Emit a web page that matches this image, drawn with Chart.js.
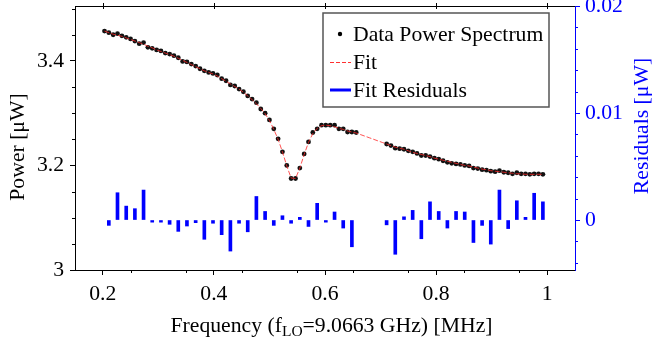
<!DOCTYPE html>
<html>
<head>
<meta charset="utf-8">
<script src="https://cdn.jsdelivr.net/npm/chart.js@4.4.0/dist/chart.umd.min.js"></script>
<style>
html, body { margin: 0; padding: 0; background: #fff; }
#wrap { width: 652px; height: 347px; }
</style>
</head>
<body>
<div id="wrap"><canvas id="spectrum" width="652" height="347"></canvas></div>
<script>
// Frequency offsets from the LO [MHz]
const freq = [
  0.2031, 0.2109, 0.2187, 0.2265, 0.2344, 0.2422, 0.2500, 0.2578, 0.2656, 0.2734,
  0.2812, 0.2890, 0.2969, 0.3047, 0.3125, 0.3203, 0.3281, 0.3359, 0.3437, 0.3515,
  0.3594, 0.3672, 0.3750, 0.3828, 0.3906, 0.3984, 0.4062, 0.4140, 0.4219, 0.4297,
  0.4375, 0.4453, 0.4531, 0.4609, 0.4687, 0.4765, 0.4844, 0.4922, 0.5000, 0.5078,
  0.5156, 0.5234, 0.5312, 0.5390, 0.5469, 0.5547, 0.5625, 0.5703, 0.5781, 0.5859,
  0.5937, 0.6015, 0.6094, 0.6172, 0.6250, 0.6328, 0.6406, 0.6484, 0.6562, 0.6640,
  0.6719, 0.6797, 0.6875, 0.6953, 0.7031, 0.7109, 0.7187, 0.7265, 0.7344, 0.7422,
  0.7500, 0.7578, 0.7656, 0.7734, 0.7812, 0.7890, 0.7969, 0.8047, 0.8125, 0.8203,
  0.8281, 0.8359, 0.8437, 0.8515, 0.8594, 0.8672, 0.8750, 0.8828, 0.8906, 0.8984,
  0.9062, 0.9140, 0.9219, 0.9297, 0.9375, 0.9453, 0.9531, 0.9609, 0.9687, 0.9765,
  0.9844, 0.9922
];

// Measured power [uW] (null = no data point)
const power = [
  3.457, 3.454, 3.450, 3.452, 3.448, 3.445, 3.442, 3.438, 3.433, 3.435,
  3.426, 3.424, 3.421, 3.419, 3.415, 3.413, 3.410, 3.406, 3.399, 3.398,
  3.394, 3.390, 3.385, 3.381, 3.378, 3.376, 3.373, 3.366, 3.362, 3.354,
  3.352, 3.346, 3.341, 3.333, 3.327, 3.320, 3.308, 3.300, 3.287, 3.270,
  3.251, 3.226, 3.200, 3.175, 3.175, 3.195, 3.222, 3.245, 3.263, 3.270,
  3.277, 3.277, 3.277, 3.277, 3.270, 3.270, 3.264, 3.264, 3.263, null,
  null, null, null, null, null, 3.241, 3.238, 3.233, 3.232, 3.231,
  3.228, 3.226, 3.223, 3.219, 3.219, 3.217, 3.214, 3.212, 3.209, 3.206,
  3.204, 3.203, 3.202, 3.200, 3.199, 3.195, 3.194, 3.192, 3.191, 3.189,
  3.188, 3.190, 3.187, 3.186, 3.184, 3.186, 3.184, 3.184, 3.183, 3.184,
  3.184, 3.183
];

// Fitted power [uW]
const fitPower = [
  3.457, 3.454, 3.451, 3.449, 3.447, 3.444, 3.441, 3.438, 3.435, 3.432,
  3.428, 3.425, 3.421, 3.418, 3.415, 3.412, 3.409, 3.405, 3.401, 3.397,
  3.393, 3.389, 3.385, 3.381, 3.378, 3.375, 3.371, 3.366, 3.361, 3.356,
  3.351, 3.346, 3.340, 3.333, 3.326, 3.318, 3.309, 3.299, 3.286, 3.269,
  3.250, 3.226, 3.199, 3.176, 3.175, 3.195, 3.221, 3.244, 3.261, 3.271,
  3.276, 3.277, 3.276, 3.274, 3.271, 3.269, 3.266, 3.264, 3.262, 3.259,
  3.256, 3.253, 3.250, 3.247, 3.244, 3.241, 3.238, 3.235, 3.233, 3.231,
  3.228, 3.225, 3.223, 3.221, 3.219, 3.217, 3.214, 3.212, 3.210, 3.208,
  3.206, 3.204, 3.202, 3.200, 3.199, 3.197, 3.195, 3.193, 3.192, 3.190,
  3.189, 3.188, 3.187, 3.186, 3.185, 3.184, 3.184, 3.183, 3.183, 3.183,
  3.183, 3.183
];

// Fit residuals [uW]
const residualFreq = [
  0.2109, 0.2265, 0.2422, 0.2578, 0.2734, 0.2890, 0.3047, 0.3203, 0.3359, 0.3515,
  0.3672, 0.3828, 0.3984, 0.4140, 0.4297, 0.4453, 0.4609, 0.4765, 0.4922, 0.5078,
  0.5234, 0.5390, 0.5547, 0.5703, 0.5859, 0.6015, 0.6172, 0.6328, 0.6484,
  0.7109, 0.7265, 0.7422, 0.7578, 0.7734, 0.7890, 0.8047, 0.8203, 0.8359, 0.8515,
  0.8672, 0.8828, 0.8984, 0.9140, 0.9297, 0.9453, 0.9609, 0.9765, 0.9922
];
const residuals = [
  -0.0005, 0.00255, 0.0013, 0.00106, 0.0028, -0.0002, -0.0002, -0.0004, -0.00106, -0.00056,
  -0.00025, -0.0018, -0.0003, -0.00137, -0.0029, -0.0003, -0.0011, 0.0022, 0.0008, -0.0005,
  0.0004, -0.0003, 0.00025, -0.0006, 0.00156, -0.0002, 0.00075, -0.00075, -0.0025,
  -0.00045, -0.0032, 0.0003, 0.0009, -0.00175, 0.0017, 0.0008, -0.00075, 0.0008, 0.00075,
  -0.0021, -0.0005, -0.00225, 0.0028, -0.0008, 0.0018, 0.00025, 0.0025, 0.0017
];

// Axis ticks
const freqTicks = [0.2, 0.4, 0.6, 0.8, 1];
const freqTickLabels = ['0.2', '0.4', '0.6', '0.8', '1'];
const freqMinor = [0.25, 0.35, 0.45, 0.55, 0.65, 0.75, 0.85, 0.95];
const powerTicks = [3, 3.2, 3.4];
const powerTickLabels = ['3', '3.2', '3.4'];
const powerMinor = [3.05, 3.1, 3.15, 3.25, 3.3, 3.35, 3.45, 3.5];
const residualTicks = [0, 0.01, 0.02];
const residualTickLabels = ['0', '0.01', '0.02'];
const residualMinor = [-0.004, -0.002, 0.002, 0.004, 0.006, 0.008, 0.012, 0.014, 0.016, 0.018];

const FONT = 'Liberation Serif';
const SIZE = 21.7;
const BLUE = '#0000ff';

const dataPoints = freq.map((f, i) => ({ x: f, y: power[i] })).filter(d => d.y !== null);
const fitPoints = freq.map((f, i) => ({ x: f, y: fitPower[i] }));
const residualPoints = residualFreq.map((f, i) => ({ x: f, y: residuals[i] }));

function fixTicks(values) {
    return scale => { scale.ticks = values.map(v => ({ value: v })); };
}

// keep the plot area fixed: no extra room for overhanging tick labels
function fixSize(w, h) {
    return s => {
        if (w) s.width = w;
        if (h) s.height = h;
        s.paddingTop = 0;
        s.paddingBottom = 0;
        s.paddingLeft = 0;
        s.paddingRight = 0;
    };
}

function font(size) {
    return size + 'px "' + FONT + '"';
}

function rotatedText(ctx, text, x, y, color) {
    ctx.save();
    ctx.translate(x, y);
    ctx.rotate(-Math.PI / 2);
    ctx.font = font(SIZE);
    ctx.fillStyle = color;
    ctx.textAlign = 'center';
    ctx.textBaseline = 'middle';
    ctx.fillText(text, 0, 0);
    ctx.restore();
}

// Minor ticks, top frame, axis titles and the boxed legend
const extras = {
    id: 'extras',
    afterDraw(chart) {
        const { ctx, chartArea: a, scales } = chart;
        ctx.save();
        ctx.lineWidth = 1;

        ctx.strokeStyle = '#000';
        ctx.beginPath();
        ctx.moveTo(a.left, Math.round(a.top) + 0.5);
        ctx.lineTo(a.right, Math.round(a.top) + 0.5);
        freqTicks.forEach(v => {
            const x = Math.round(scales.x.getPixelForValue(v)) + 0.5;
            ctx.moveTo(x, a.top - 3);
            ctx.lineTo(x, a.top + 3);
        });
        freqMinor.forEach(v => {
            const x = Math.round(scales.x.getPixelForValue(v)) + 0.5;
            ctx.moveTo(x, a.bottom);
            ctx.lineTo(x, a.bottom + 3);
        });
        powerMinor.forEach(v => {
            const y = Math.round(scales.y.getPixelForValue(v)) + 0.5;
            ctx.moveTo(a.left - 3, y);
            ctx.lineTo(a.left, y);
        });
        ctx.stroke();

        ctx.strokeStyle = BLUE;
        ctx.beginPath();
        residualMinor.forEach(v => {
            const y = Math.round(scales.y2.getPixelForValue(v)) + 0.5;
            ctx.moveTo(a.right, y);
            ctx.lineTo(a.right + 3, y);
        });
        ctx.stroke();

        // y titles, both reading bottom to top
        rotatedText(ctx, 'Power [\u03bcW]', 18, 147, '#000');
        rotatedText(ctx, 'Residuals [\u03bcW]', 642, 126, BLUE);

        // x title: Frequency (f_LO=9.0663 GHz) [MHz]
        const parts = [
            { t: 'Frequency (f', size: SIZE, dy: 0 },
            { t: 'LO', size: 15.5, dy: 4 },
            { t: '=9.0663 GHz) [MHz]', size: SIZE, dy: 0 }
        ];
        let total = 0;
        parts.forEach(p => {
            ctx.font = font(p.size);
            p.w = ctx.measureText(p.t).width;
            total += p.w;
        });
        let x = 331.5 - total / 2;
        ctx.fillStyle = '#000';
        ctx.textBaseline = 'alphabetic';
        ctx.textAlign = 'left';
        parts.forEach(p => {
            ctx.font = font(p.size);
            ctx.fillText(p.t, x, 332 + p.dy);
            x += p.w;
        });

        // legend
        const box = { l: 323, t: 13, r: 549, b: 107 };
        ctx.fillStyle = '#fff';
        ctx.fillRect(box.l, box.t, box.r - box.l, box.b - box.t);
        ctx.strokeStyle = '#555';
        ctx.lineWidth = 1.5;
        ctx.strokeRect(box.l, box.t, box.r - box.l, box.b - box.t);

        const rows = [34, 62, 90];
        const labels = chart.data.datasets.map(d => d.label);
        ctx.fillStyle = '#000';
        ctx.beginPath();
        ctx.arc(340, rows[0], 2.2, 0, Math.PI * 2);
        ctx.fill();

        ctx.strokeStyle = '#ff3030';
        ctx.lineWidth = 1;
        ctx.setLineDash([4, 2]);
        ctx.beginPath();
        ctx.moveTo(330, rows[1] + 0.5);
        ctx.lineTo(351, rows[1] + 0.5);
        ctx.stroke();
        ctx.setLineDash([]);

        ctx.strokeStyle = BLUE;
        ctx.lineWidth = 3;
        ctx.beginPath();
        ctx.moveTo(330, rows[2]);
        ctx.lineTo(351, rows[2]);
        ctx.stroke();

        ctx.font = font(SIZE);
        ctx.textBaseline = 'middle';
        ctx.textAlign = 'left';
        ctx.fillStyle = '#000';
        labels.forEach((txt, i) => ctx.fillText(txt, 353, rows[i] + 1));

        ctx.restore();
    }
};

new Chart(document.getElementById('spectrum'), {
    type: 'scatter',
    data: {
        datasets: [
            {
                type: 'scatter',
                label: 'Data Power Spectrum',
                data: dataPoints,
                yAxisID: 'y',
                pointRadius: 2.4,
                pointBackgroundColor: '#111',
                pointBorderWidth: 0,
                order: 2
            },
            {
                type: 'line',
                label: 'Fit',
                data: fitPoints,
                yAxisID: 'y',
                borderColor: 'rgba(255, 40, 40, 0.8)',
                borderWidth: 1,
                borderDash: [5, 2],
                pointRadius: 0,
                tension: 0,
                fill: false,
                order: 1
            },
            {
                type: 'bar',
                label: 'Fit Residuals',
                data: residualPoints,
                yAxisID: 'y2',
                backgroundColor: BLUE,
                barThickness: 3,
                order: 3
            }
        ]
    },
    options: {
        responsive: false,
        animation: false,
        devicePixelRatio: 1,
        layout: { padding: { top: 6, left: 0, right: 0, bottom: 0 } },
        plugins: {
            legend: { display: false },
            tooltip: { enabled: false }
        },
        scales: {
            x: {
                type: 'linear',
                min: 0.15,
                max: 1.05,
                offset: false,
                afterBuildTicks: fixTicks(freqTicks),
                afterFit: fixSize(0, 77),
                grid: { display: true, offset: false, drawOnChartArea: false, color: '#000', tickLength: 5 },
                border: { display: true, color: '#000', width: 1 },
                ticks: {
                    color: '#000',
                    padding: 6,
                    maxRotation: 0,
                    font: { family: FONT, size: SIZE },
                    callback: (v, i) => freqTickLabels[i]
                }
            },
            y: {
                type: 'linear',
                position: 'left',
                min: 3,
                max: 3.505,
                afterBuildTicks: fixTicks(powerTicks),
                afterFit: fixSize(75, 0),
                grid: { display: true, drawOnChartArea: false, color: '#000', tickLength: 5 },
                border: { display: true, color: '#000', width: 1 },
                ticks: {
                    color: '#000',
                    padding: 6,
                    font: { family: FONT, size: SIZE },
                    callback: (v, i) => powerTickLabels[i]
                }
            },
            y2: {
                type: 'linear',
                position: 'right',
                min: -0.00467,
                max: 0.02,
                afterBuildTicks: fixTicks(residualTicks),
                afterFit: fixSize(77, 0),
                grid: { display: true, drawOnChartArea: false, color: BLUE, tickLength: 5 },
                border: { display: true, color: BLUE, width: 1 },
                ticks: {
                    color: BLUE,
                    padding: 5,
                    font: { family: FONT, size: SIZE },
                    callback: (v, i) => residualTickLabels[i]
                }
            }
        }
    },
    plugins: [extras]
});
</script>
</body>
</html>
